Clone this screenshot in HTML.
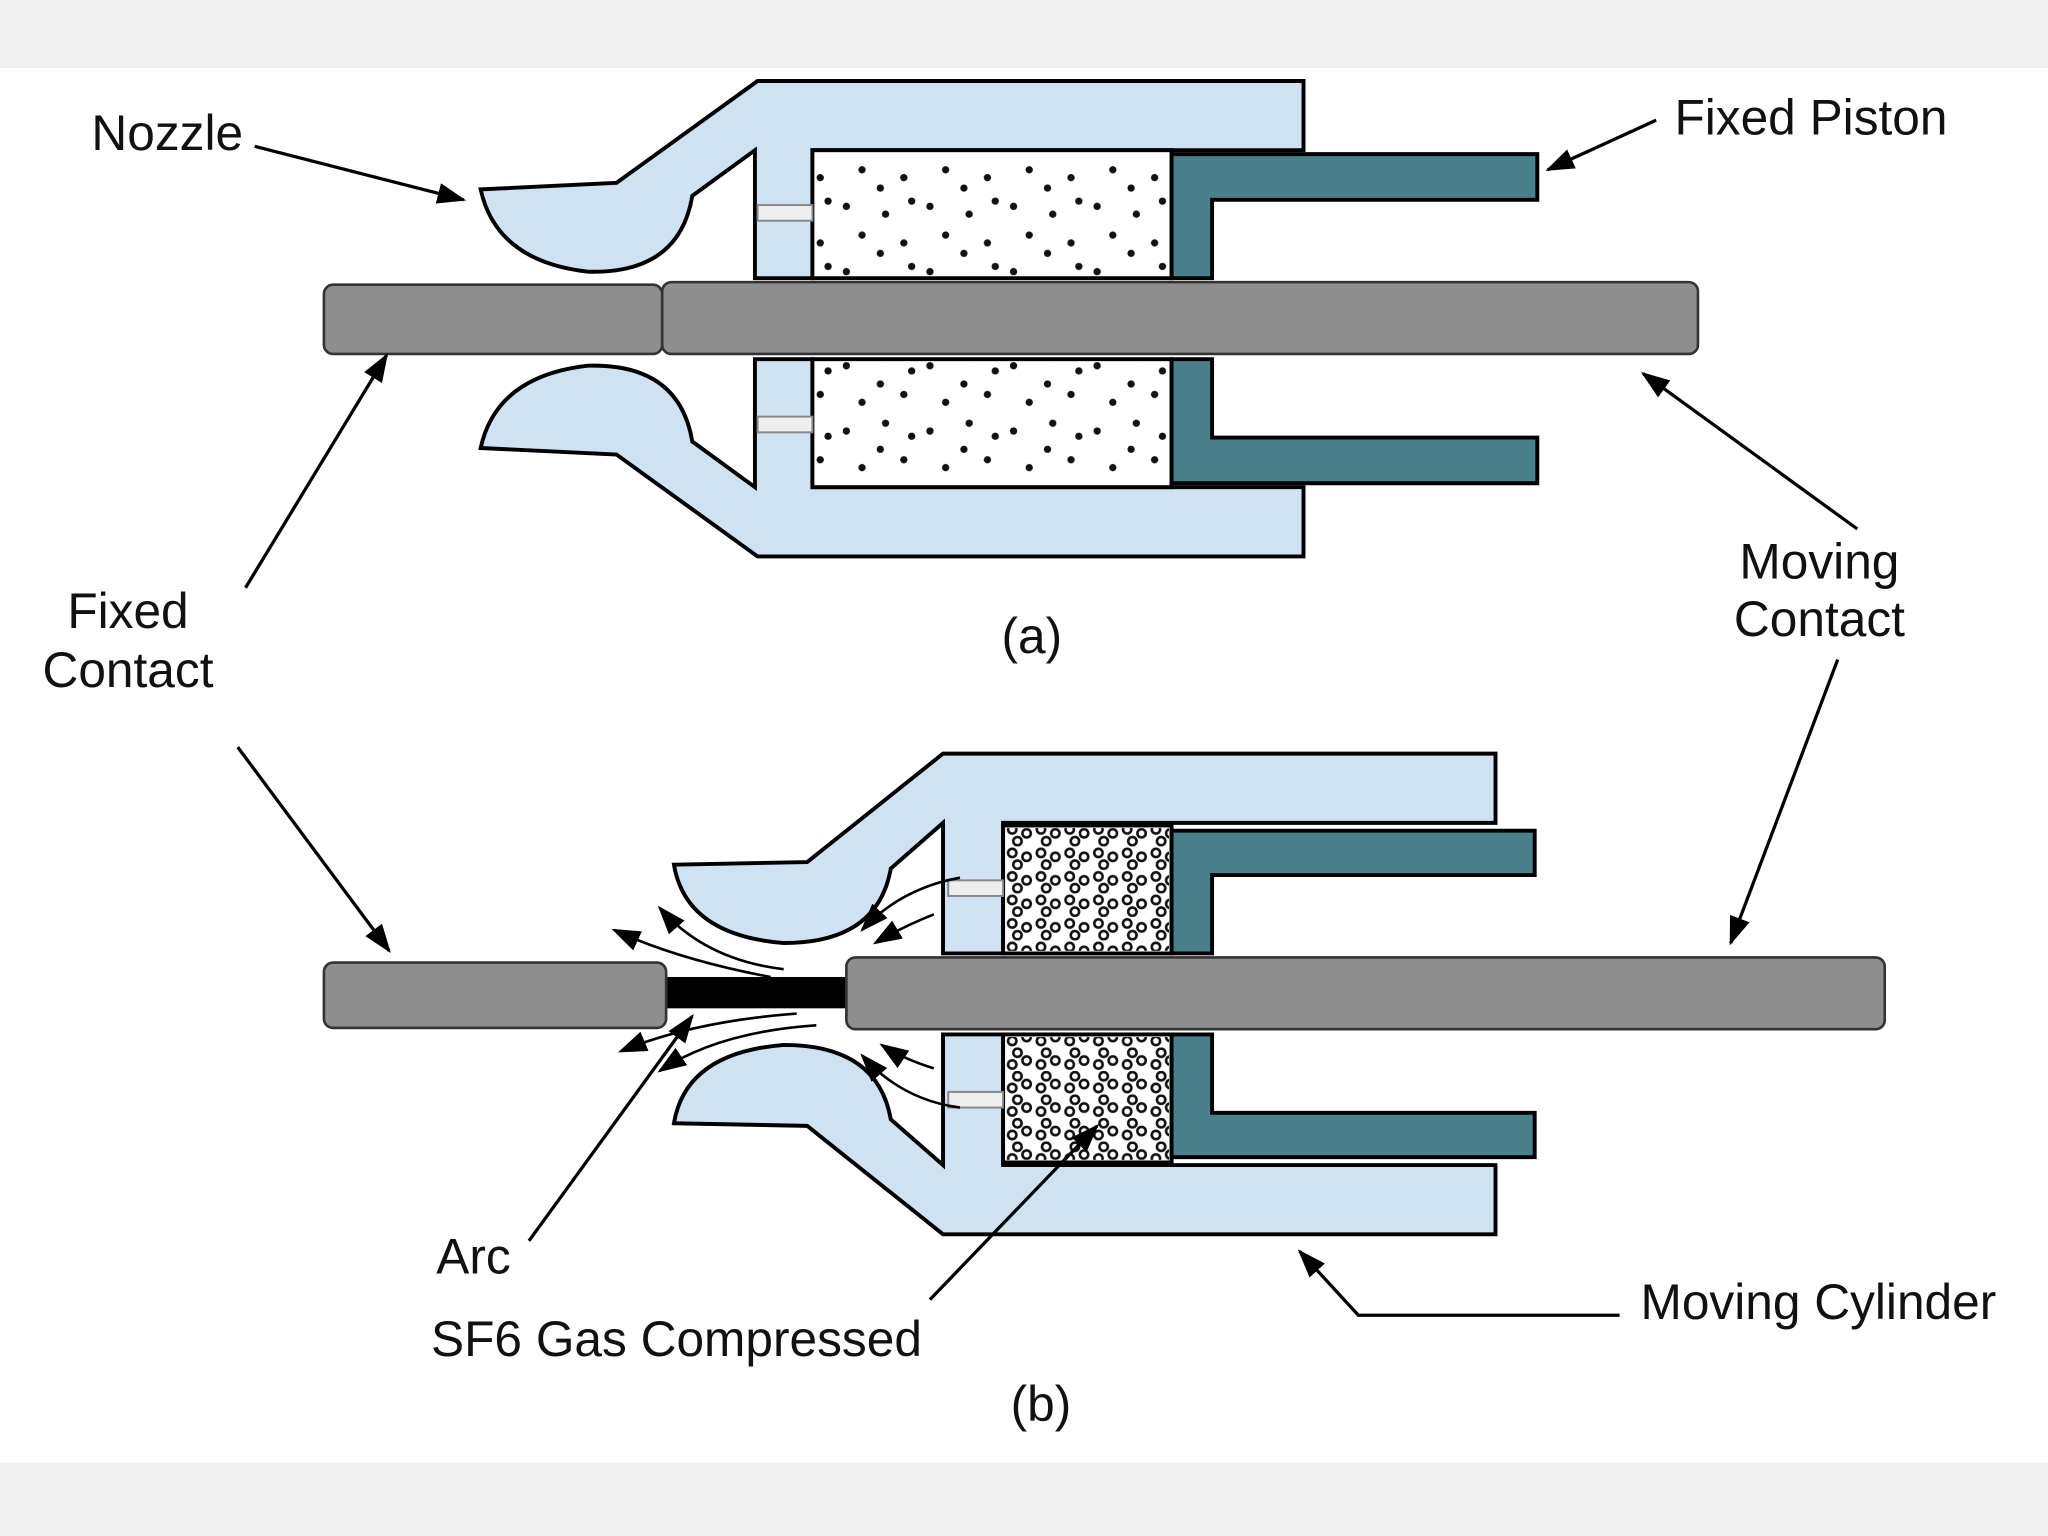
<!DOCTYPE html>
<html><head><meta charset="utf-8"><style>html,body{margin:0;padding:0;background:#fff}svg{display:block}text{font-family:"Liberation Sans",sans-serif;fill:#111}</style></head>
<body>
<svg width="2048" height="1536" viewBox="0 0 1568 1176" xmlns="http://www.w3.org/2000/svg">
<defs>
<marker id="ah2" markerWidth="22" markerHeight="16" refX="20" refY="8" orient="auto" markerUnits="userSpaceOnUse" viewBox="0 0 22 16"><path d="M0,0 L22,8 L0,16 Z" fill="#000"/></marker>
<pattern id="dots" width="64" height="50" patternUnits="userSpaceOnUse">
<circle cx="8" cy="8" r="2.8" fill="#111"/><circle cx="38" cy="14" r="2.8" fill="#111"/><circle cx="20" cy="30" r="2.8" fill="#111"/><circle cx="52" cy="36" r="2.8" fill="#111"/><circle cx="34" cy="44" r="2.8" fill="#111"/><circle cx="58" cy="4" r="2.8" fill="#111"/>
</pattern>
<pattern id="dots2" width="22" height="18" patternUnits="userSpaceOnUse">
<circle cx="5" cy="5" r="3.2" fill="none" stroke="#111" stroke-width="2"/><circle cx="16" cy="8" r="3.2" fill="none" stroke="#111" stroke-width="2"/><circle cx="9" cy="14" r="3.2" fill="none" stroke="#111" stroke-width="2"/>
</pattern>
<g id="halfA">
<path d="M368,145 L472,140 L580,62 L998,62 L998,115 L622,115 L622,213 L578,213 L578,115 L530,150 Q520,210 450,208 Q380,200 368,145 Z" fill="#cfe2f3" stroke="#000" stroke-width="3"/>
<rect x="622" y="115" width="275" height="98" fill="#fff" stroke="#000" stroke-width="3"/>
<rect x="624" y="117" width="271" height="94" fill="url(#dots)"/>
<path d="M897,118 L1177,118 L1177,153 L928,153 L928,213 L897,213 Z" fill="#4a7f8c" stroke="#000" stroke-width="3"/>
<rect x="580" y="157" width="42" height="12" fill="#eee" stroke="#888" stroke-width="1.5"/>
</g>
<g id="halfB">
<path d="M516,662 L618,660 L722,577 L1145,577 L1145,630 L768,630 L768,730 L722,730 L722,630 L682,665 Q672,722 600,722 Q525,716 516,662 Z" fill="#cfe2f3" stroke="#000" stroke-width="3"/>
<rect x="768" y="632" width="129" height="98" fill="#fff" stroke="#000" stroke-width="3"/>
<rect x="770" y="634" width="125" height="94" fill="url(#dots2)"/>
<path d="M897,636 L1175,636 L1175,670 L928,670 L928,730 L897,730 Z" fill="#4a7f8c" stroke="#000" stroke-width="3"/>
<rect x="726" y="674" width="42" height="12" fill="#eee" stroke="#888" stroke-width="1.5"/>
</g>
</defs>
<rect x="0" y="0" width="1568" height="52" fill="#f0f0f0"/>
<rect x="0" y="1120" width="1568" height="56" fill="#f0f0f0"/>

<use href="#halfA"/>
<use href="#halfA" transform="translate(0,488) scale(1,-1)"/>
<rect x="248" y="218" width="259" height="53" rx="7" fill="#8e8e8e" stroke="#333" stroke-width="2"/>
<rect x="507" y="216" width="793" height="55" rx="7" fill="#8e8e8e" stroke="#333" stroke-width="2"/>

<use href="#halfB"/>
<use href="#halfB" transform="translate(0,1522) scale(1,-1)"/>
<rect x="510" y="748" width="140" height="24" fill="#000"/>
<rect x="248" y="737" width="262" height="50" rx="7" fill="#8e8e8e" stroke="#333" stroke-width="2"/>
<rect x="648" y="733" width="795" height="55" rx="7" fill="#8e8e8e" stroke="#333" stroke-width="2"/>

<g fill="none" stroke="#000" stroke-width="2">
<path d="M735,672 Q690,680 660,712" marker-end="url(#ah2)"/>
<path d="M715,700 Q690,710 670,722" marker-end="url(#ah2)"/>
<path d="M600,742 Q540,735 505,695" marker-end="url(#ah2)"/>
<path d="M590,748 Q520,735 470,712" marker-end="url(#ah2)"/>
<path d="M735,848 Q690,842 660,808" marker-end="url(#ah2)"/>
<path d="M715,818 Q690,810 675,800" marker-end="url(#ah2)"/>
<path d="M625,785 Q550,790 505,820" marker-end="url(#ah2)"/>
<path d="M610,776 Q530,782 475,805" marker-end="url(#ah2)"/>
</g>

<g stroke="#000" stroke-width="2.5" fill="none">
<line x1="195" y1="112" x2="355" y2="153" marker-end="url(#ah2)"/>
<line x1="1268" y1="92" x2="1185" y2="130" marker-end="url(#ah2)"/>
<line x1="188" y1="450" x2="296" y2="272" marker-end="url(#ah2)"/>
<line x1="182" y1="572" x2="298" y2="728" marker-end="url(#ah2)"/>
<line x1="1422" y1="405" x2="1258" y2="286" marker-end="url(#ah2)"/>
<line x1="1407" y1="505" x2="1325" y2="722" marker-end="url(#ah2)"/>
<line x1="405" y1="950" x2="530" y2="778" marker-end="url(#ah2)"/>
<line x1="712" y1="995" x2="840" y2="862" marker-end="url(#ah2)"/>
<polyline points="1240,1007 1040,1007 995,958" marker-end="url(#ah2)"/>
</g>

<g font-size="38">
<text x="70" y="115">Nozzle</text>
<text x="1282" y="103">Fixed Piston</text>
<text x="98" y="481" text-anchor="middle">Fixed</text>
<text x="98" y="526" text-anchor="middle">Contact</text>
<text x="1393" y="443" text-anchor="middle">Moving</text>
<text x="1393" y="487" text-anchor="middle">Contact</text>
<text x="790" y="500" text-anchor="middle">(a)</text>
<text x="797" y="1088" text-anchor="middle">(b)</text>
<text x="334" y="975">Arc</text>
<text x="330" y="1038">SF6 Gas Compressed</text>
<text x="1256" y="1010">Moving Cylinder</text>
</g>
</svg>
</body></html>
